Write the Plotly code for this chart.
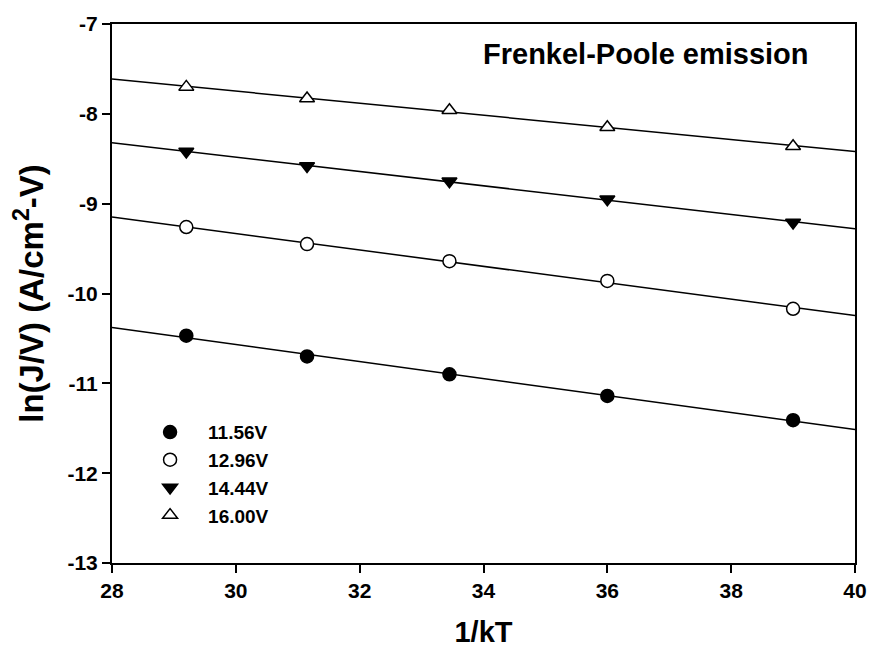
import numpy as np
import plotly.graph_objects as go

# 1/kT values (eV^-1) shared by all bias voltages
inv_kT = [29.2, 31.15, 33.45, 36.0, 39.0]

# ln(J/V) measured at each bias voltage
ln_jv_1156 = [-10.47, -10.70, -10.90, -11.14, -11.41]
ln_jv_1296 = [-9.26, -9.45, -9.64, -9.86, -10.17]
ln_jv_1444 = [-8.42, -8.58, -8.75, -8.95, -9.21]
ln_jv_1600 = [-7.70, -7.83, -7.96, -8.15, -8.36]

labels = ["11.56V", "12.96V", "14.44V", "16.00V"]
series = [ln_jv_1156, ln_jv_1296, ln_jv_1444, ln_jv_1600]
symbols = ["circle", "circle-open", "triangle-down", "triangle-up-open"]

x_ticks = [28, 30, 32, 34, 36, 38, 40]
y_ticks = [-13, -12, -11, -10, -9, -8, -7]

x_range = [28, 40]
y_range = [-13, -7]

FONT = "Liberation Sans, Arial, sans-serif"

fig = go.Figure()

# Linear fits spanning the full x range
x_fit = np.array(x_range, dtype=float)
for ys in series:
    slope, intercept = np.polyfit(inv_kT, ys, 1)
    fig.add_trace(go.Scatter(
        x=x_fit, y=slope * x_fit + intercept, mode="lines",
        line=dict(color="black", width=1.5), showlegend=False, hoverinfo="skip",
    ))

# Measured points
for name, ys, sym in zip(labels, series, symbols):
    open_marker = sym.endswith("open")
    fig.add_trace(go.Scatter(
        x=inv_kT, y=ys, mode="markers", name=f"<b>{name}</b>",
        marker=dict(
            symbol=sym.replace("-open", "") if open_marker else sym,
            size=13,
            color="white" if open_marker else "black",
            line=dict(color="black", width=1.5),
        ),
    ))

fig.add_annotation(
    text="<b>Frenkel-Poole emission</b>", xref="paper", yref="paper",
    x=0.7187, y=0.944, xanchor="center", yanchor="middle", showarrow=False,
    font=dict(family=FONT, size=29, color="black"),
)

axis_common = dict(
    showgrid=False, zeroline=False, showline=True, linecolor="black", linewidth=2,
    mirror=True, ticks="outside", ticklen=8, tickwidth=2, tickcolor="black",
    tickfont=dict(family=FONT, size=21, color="black"),
)

fig.update_xaxes(
    range=x_range, tickmode="array", tickvals=x_ticks,
    ticktext=[f"<b>{v}</b>" for v in x_ticks],
    title=dict(text="<b>1/kT</b>", standoff=20,
               font=dict(family=FONT, size=29, color="black")),
    **axis_common,
)
fig.update_yaxes(
    range=y_range, tickmode="array", tickvals=y_ticks,
    ticktext=[f"<b>{v}</b>" for v in y_ticks],
    title=dict(text="<b>ln(J/V) (A/cm<sup>2</sup>-V)</b>", standoff=14,
               font=dict(family=FONT, size=33, color="black")),
    **axis_common,
)

fig.update_layout(
    width=879, height=660,
    margin=dict(l=112, r=17, t=23, b=97),
    paper_bgcolor="white", plot_bgcolor="white",
    legend=dict(
        x=0.027, y=0.278, xanchor="left", yanchor="top",
        bgcolor="rgba(0,0,0,0)", borderwidth=0,
        font=dict(family=FONT, size=19, color="black"),
        itemwidth=66,
    ),
    showlegend=True,
)

fig.write_html("out.html")
